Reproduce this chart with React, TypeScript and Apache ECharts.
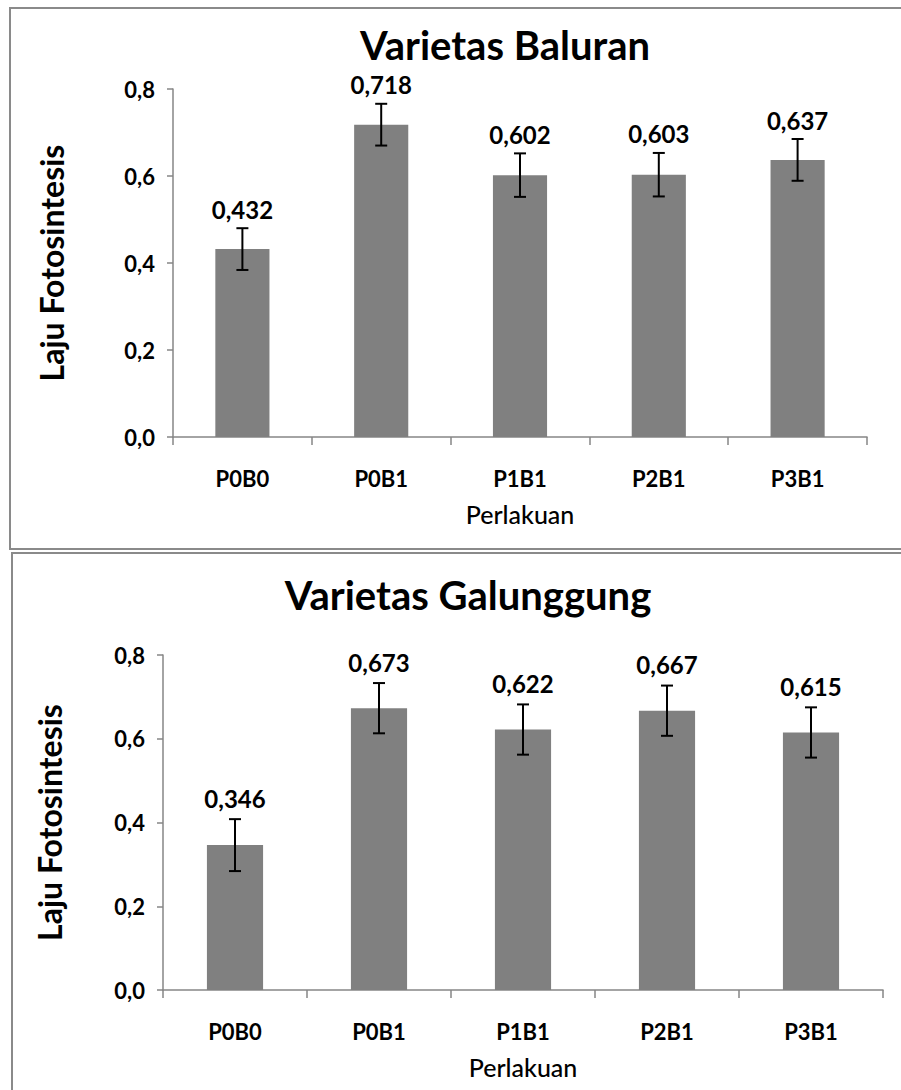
import React, { useEffect, useRef } from "react";
import * as echarts from "echarts";

const categories = ["P0B0", "P0B1", "P1B1", "P2B1", "P3B1"];
const baluranValues = [0.432, 0.718, 0.602, 0.603, 0.637];
const baluranErrors = [0.048, 0.048, 0.05, 0.05, 0.048];
const galunggungValues = [0.346, 0.673, 0.622, 0.667, 0.615];
const galunggungErrors = [0.062, 0.06, 0.06, 0.06, 0.06];
const yTicks = [0, 0.2, 0.4, 0.6, 0.8];
const titles = ["Varietas Baluran", "Varietas Galunggung"];

const FONT = "Lato, 'Open Sans', sans-serif";
const AXIS_COLOR = "#868686";
const BAR_COLOR = "#808080";

export default function App() {
  const ref = useRef<HTMLDivElement>(null);

  useEffect(() => {
    if (!ref.current) return;
    const chart = echarts.init(ref.current, null, { renderer: "svg" });

    const grids = [
      { left: 173, top: 89, width: 694, height: 348 },
      { left: 163, top: 655, width: 720, height: 335 },
    ];

    const xAxes = grids.map((_, i) => ({
      type: "category",
      gridIndex: i,
      data: categories,
      boundaryGap: true,
      axisLine: { show: true, lineStyle: { color: AXIS_COLOR, width: 1.5 } },
      axisTick: { show: true, length: 8, lineStyle: { color: AXIS_COLOR, width: 1.5 } },
      axisLabel: {
        margin: 30,
        color: "#000",
        fontFamily: FONT,
        fontWeight: "bold",
        fontSize: 22,
      },
      name: "Perlakuan",
      nameLocation: "middle",
      nameGap: 64,
      nameTextStyle: { color: "#000", fontFamily: FONT, fontSize: 25, fontWeight: 500 },
    }));

    const yAxes = grids.map((_, i) => ({
      type: "value",
      gridIndex: i,
      min: yTicks[0],
      max: yTicks[yTicks.length - 1],
      interval: 0.2,
      splitLine: { show: false },
      axisLine: { show: true, lineStyle: { color: AXIS_COLOR, width: 1.5 } },
      axisTick: { show: true, length: 6, lineStyle: { color: AXIS_COLOR, width: 1.5 } },
      axisLabel: {
        margin: 18,
        color: "#000",
        fontFamily: FONT,
        fontWeight: "bold",
        fontSize: 22,
        formatter: (v: number) => v.toFixed(1).replace(".", ","),
      },
      name: "Laju Fotosintesis",
      nameLocation: "middle",
      nameRotate: 90,
      nameGap: i === 0 ? 106 : 98,
      nameTextStyle: { color: "#000", fontFamily: FONT, fontSize: 32, fontWeight: "bold" },
    }));

    const datasets = [
      { values: baluranValues, errors: baluranErrors, labelGap: 7 },
      { values: galunggungValues, errors: galunggungErrors, labelGap: 9 },
    ];

    const series: any[] = [];
    datasets.forEach((d, i) => {
      series.push({
        type: "bar",
        xAxisIndex: i,
        yAxisIndex: i,
        data: d.values,
        barWidth: "39%",
        itemStyle: { color: BAR_COLOR },
        silent: true,
      });
      series.push({
        type: "custom",
        xAxisIndex: i,
        yAxisIndex: i,
        silent: true,
        z: 5,
        data: d.values.map((v, k) => [k, v, d.errors[k]]),
        renderItem: (params: any, api: any) => {
          const idx = api.value(0);
          const v = api.value(1);
          const e = api.value(2);
          const hi = api.coord([idx, v + e]);
          const lo = api.coord([idx, v - e]);
          const cap = 6;
          const lineStyle = { stroke: "#000", lineWidth: 2 };
          return {
            type: "group",
            children: [
              { type: "line", shape: { x1: hi[0], y1: hi[1], x2: lo[0], y2: lo[1] }, style: lineStyle },
              { type: "line", shape: { x1: hi[0] - cap, y1: hi[1], x2: hi[0] + cap, y2: hi[1] }, style: lineStyle },
              { type: "line", shape: { x1: lo[0] - cap, y1: lo[1], x2: lo[0] + cap, y2: lo[1] }, style: lineStyle },
              {
                type: "text",
                style: {
                  text: v.toFixed(3).replace(".", ","),
                  x: hi[0],
                  y: hi[1] - d.labelGap,
                  textAlign: "center",
                  textVerticalAlign: "bottom",
                  fill: "#000",
                  font: `bold 24px ${FONT}`,
                },
              },
            ],
          };
        },
      });
    });

    chart.setOption({
      animation: false,
      backgroundColor: "#fff",
      title: [
        {
          text: titles[0],
          left: 500,
          top: 20,
          textAlign: "center",
          textStyle: { color: "#000", fontFamily: FONT, fontWeight: "bold", fontSize: 40 },
        },
        {
          text: titles[1],
          left: 463,
          top: 570,
          textAlign: "center",
          textStyle: { color: "#000", fontFamily: FONT, fontWeight: "bold", fontSize: 40 },
        },
      ],
      graphic: [
        {
          type: "rect",
          shape: { x: 10, y: 8, width: 900, height: 541 },
          style: { fill: "none", stroke: "#8a8a8a", lineWidth: 2 },
          silent: true,
        },
        {
          type: "rect",
          shape: { x: 12, y: 553, width: 900, height: 600 },
          style: { fill: "none", stroke: "#8a8a8a", lineWidth: 2 },
          silent: true,
        },
      ],
      grid: grids,
      xAxis: xAxes,
      yAxis: yAxes,
      series,
    });

    return () => chart.dispose();
  }, []);

  return (
    <div
      ref={ref}
      style={{ position: "absolute", left: 0, top: 0, width: 901, height: 1090 }}
    />
  );
}
